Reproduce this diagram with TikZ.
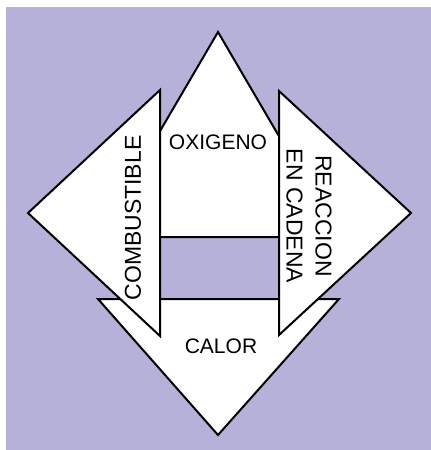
\documentclass[tikz,border=0pt]{standalone}
\usepackage{fontspec}
\setmainfont{Liberation Sans}
\definecolor{fondo}{RGB}{181,177,216}
\begin{document}
\begin{tikzpicture}[
        x=1pt, y=-1pt,
        line join=miter,
        pieza/.style={fill=white, draw=black, line width=2pt},
        texto/.style={inner sep=0pt, font=\fontsize{21}{25}\selectfont},
        textov/.style={inner sep=0pt, align=center, font=\fontsize{23}{29}\selectfont},
    ]

    % marco y fondo
    \useasboundingbox (0,0) rectangle (431,450);
    \fill[fondo] (6,7) rectangle (431,450);

    % vertices de las piezas
    \coordinate (Oapex) at (218,32);
    \coordinate (Obl) at (98,237);
    \coordinate (Obr) at (338,237);
    \coordinate (Ctl) at (98,299);
    \coordinate (Ctr) at (339,299);
    \coordinate (Capex) at (218,435);
    \coordinate (Lt) at (160,90);
    \coordinate (Lb) at (160,336);
    \coordinate (Lapex) at (28,213);
    \coordinate (Rt) at (279,91);
    \coordinate (Rb) at (279,335);
    \coordinate (Rapex) at (411,213);

    % ---- calor (abajo) ----
    \draw[pieza] (Ctl) -- (Ctr) -- (Capex) -- cycle;

    % ---- oxigeno (arriba) ----
    \draw[pieza] (Obl) -- (Oapex) -- (Obr) -- cycle;

    % ---- combustible y reaccion en cadena (lados) ----
    \draw[pieza] (Lt) -- (Lb) -- (Lapex) -- cycle;
    \draw[pieza] (Rt) -- (Rb) -- (Rapex) -- cycle;

    % etiquetas
    \node[texto] (oxigeno) at (218,142) {OXIGENO};
    \node[texto] (calor) at (221,346) {CALOR};
    \node[textov, rotate=90] (combustible) at (133,218) {COMBUSTIBLE};
    \node[textov, rotate=-90] (reaccion) at (309,216) {REACCION\\EN CADENA};

\end{tikzpicture}
\end{document}
